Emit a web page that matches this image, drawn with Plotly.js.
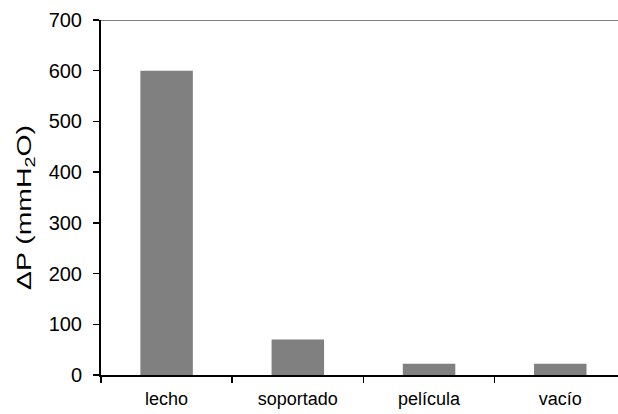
<!DOCTYPE html>
<html><head><meta charset="utf-8">
<script src="https://cdn.plot.ly/plotly-3.0.1.min.js"></script>
<style>body{margin:0;padding:0;background:#fff}#chart{width:618px;height:414px}</style>
</head><body><div id="chart"></div>
<script>
const categories = ['lecho', 'soportado', 'película', 'vacío'];
const deltaP = [600, 70, 22, 22];
const yTicks = [0, 100, 200, 300, 400, 500, 600, 700];

const trace = {
  type: 'bar', x: categories, y: deltaP,
  marker: {color: '#808080', line: {width: 0}},
  width: 0.4, hoverinfo: 'none'
};
const layout = {
  width: 618, height: 414,
  margin: {l: 101, r: 0, t: 20, b: 39},
  paper_bgcolor: '#fff', plot_bgcolor: '#fff',
  font: {family: 'Liberation Sans, Arial, sans-serif', color: '#000', size: 18},
  showlegend: false,
  bargap: 0.6,
  xaxis: {
    type: 'category', range: [-0.5, 3.44], tickson: 'boundaries',
    ticks: 'outside', ticklen: 6, tickwidth: 1.5, tickcolor: '#000',
    showline: true, linecolor: '#000', linewidth: 2,
    showgrid: false, zeroline: false, fixedrange: true,
    ticklabelstandoff: 6, tickfont: {size: 18}
  },
  yaxis: {
    range: [0, 700], tickvals: yTicks, ticks: 'outside', ticklen: 6, tickwidth: 1.5,
    tickcolor: '#000', showline: true, linecolor: '#000', linewidth: 2,
    showgrid: false, zeroline: false, ticklabelstandoff: 7,
    tickfont: {size: 20},
    title: {text: 'ΔP (mmH<sub>2</sub>O)', font: {size: 20}, standoff: 12}
  },
  shapes: [{type: 'line', xref: 'paper', yref: 'y', x0: 0, x1: 1, y0: 700, y1: 700,
    line: {color: '#000', width: 1}}]
};
Plotly.newPlot('chart', [trace], layout, {staticPlot: true, displayModeBar: false}).then(function (gd) {
  // the reference title glyphs are stretched along the baseline and sit a little lower
  const t = gd.querySelector('.ytitle');
  if (t) {
    const x = parseFloat(t.getAttribute('x')), y = parseFloat(t.getAttribute('y'));
    const tr = t.getAttribute('transform') || '';
    t.setAttribute('transform', 'translate(0,10) ' + tr + ' translate(' + x + ',' + y + ') scale(1.42,1) translate(' + (-x) + ',' + (-y) + ')');
  }
});
</script></body></html>
